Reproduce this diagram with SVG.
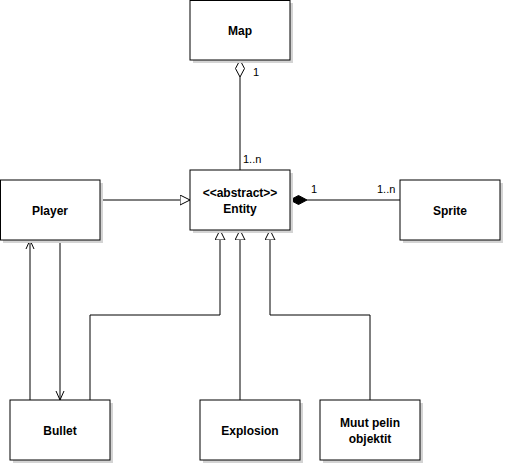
<svg xmlns="http://www.w3.org/2000/svg" width="505" height="465" viewBox="0 0 505 465">
<style>
.box{fill:#fff;stroke:#000;stroke-width:1}
.sh{fill:#d4d4d4}
.t{font-family:"Liberation Sans",Arial,sans-serif;font-size:12px;font-weight:bold;text-anchor:middle;fill:#000}
.l{font-family:"Liberation Sans",Arial,sans-serif;font-size:11px;fill:#000}
.c{fill:none;stroke:#000;stroke-width:1}
</style>
<defs>
<marker id="tri" markerWidth="12" markerHeight="12" refX="10" refY="5" orient="auto" markerUnits="userSpaceOnUse">
<path d="M0,0 L10,5 L0,10 Z" fill="#fff" stroke="#000"/>
</marker>
<marker id="open" markerWidth="12" markerHeight="12" refX="10" refY="5" orient="auto" markerUnits="userSpaceOnUse">
<path d="M1,1 L10,5 L1,9" fill="none" stroke="#000"/>
</marker>
</defs>
<rect width="505" height="465" fill="#fff"/>
<g id="connectors">
<path class="c" d="M240,170 V77"/>
<path d="M240,60 L244.5,68.5 L240,77 L235.5,68.5 Z" fill="#fff" stroke="#000"/>
<path class="c" d="M100,200 H190" marker-end="url(#tri)"/>
<path class="c" d="M307,200 H400"/>
<path d="M290,200 L298.5,195.5 L307,200 L298.5,204.5 Z" fill="#000" stroke="#000"/>
<path class="c" d="M90,400 V315 H220 V230" marker-end="url(#tri)"/>
<path class="c" d="M240,400 V230" marker-end="url(#tri)"/>
<path class="c" d="M370,400 V315 H270 V230" marker-end="url(#tri)"/>
<path class="c" d="M60,240 V400" marker-end="url(#open)"/>
<path class="c" d="M30,400 V240" marker-end="url(#open)"/>
<text class="l" x="253" y="76">1</text>
<text class="l" x="243" y="163">1..n</text>
<text class="l" x="311" y="193">1</text>
<text class="l" x="377" y="193">1..n</text>
</g>
<g id="map"><rect class="sh" x="193" y="3" width="100" height="60"/><rect class="box" x="190" y="0.5" width="100" height="59.5"/><text class="t" x="240" y="35">Map</text></g>
<g id="entity"><rect class="sh" x="193" y="173" width="100" height="60"/><rect class="box" x="190" y="170" width="100" height="60"/><text class="t" x="240" y="197">&lt;&lt;abstract&gt;&gt;</text><text class="t" x="240" y="213">Entity</text></g>
<g id="player"><rect class="sh" x="3" y="183" width="100" height="60"/><rect class="box" x="0.5" y="180" width="99.5" height="60"/><text class="t" x="50" y="215">Player</text></g>
<g id="sprite"><rect class="sh" x="403" y="183" width="100" height="60"/><rect class="box" x="400" y="180" width="100" height="60"/><text class="t" x="450" y="215">Sprite</text></g>
<g id="bullet"><rect class="sh" x="13" y="403" width="100" height="60"/><rect class="box" x="10" y="400" width="100" height="60"/><text class="t" x="60" y="435">Bullet</text></g>
<g id="explosion"><rect class="sh" x="203" y="403" width="100" height="60"/><rect class="box" x="200" y="400" width="100" height="60"/><text class="t" x="250" y="435">Explosion</text></g>
<g id="muut"><rect class="sh" x="323" y="403" width="100" height="60"/><rect class="box" x="320" y="400" width="100" height="60"/><text class="t" x="370" y="427">Muut pelin</text><text class="t" x="370" y="443">objektit</text></g>
</svg>
